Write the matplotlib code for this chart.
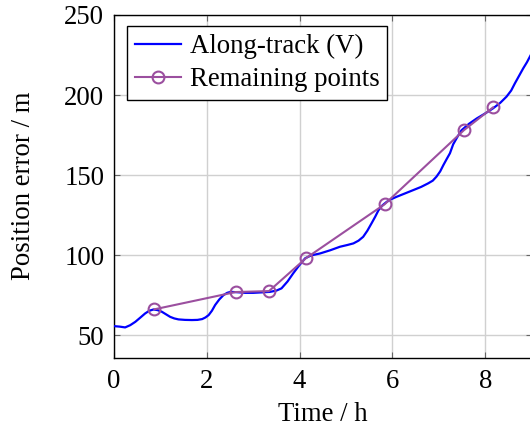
import numpy as np
import matplotlib
matplotlib.use('Agg')
import matplotlib.pyplot as plt

# blue curve
t_track = [0.0, 0.12, 0.24, 0.35, 0.46, 0.57, 0.67, 0.76, 0.85, 0.94, 1.03, 1.12, 1.21,
           1.30, 1.39, 1.53, 1.68, 1.80, 1.90, 1.97, 2.04, 2.11, 2.18, 2.27, 2.36, 2.44,
           2.51, 2.65, 2.83, 3.0, 3.19, 3.36, 3.50, 3.61, 3.74, 3.86, 3.99, 4.12, 4.25,
           4.44, 4.66, 4.87, 5.03, 5.16, 5.27, 5.37, 5.46, 5.55, 5.63, 5.70, 5.79, 5.88,
           5.98, 6.09, 6.27, 6.45, 6.62, 6.77, 6.87, 6.95, 7.03, 7.10, 7.17, 7.24, 7.31,
           7.40, 7.49, 7.65, 7.82, 8.0, 8.17, 8.32, 8.46, 8.56, 8.64, 8.73, 8.82, 8.90, 9.0]
err_track = [55.6, 55.3, 54.8, 56.2, 58.3, 61.0, 63.5, 65.2, 66.0, 65.6, 64.6, 63.0, 61.4,
             60.4, 59.8, 59.5, 59.4, 59.5, 60.0, 61.0, 62.5, 65.2, 68.8, 72.3, 75.0, 76.4,
             77.0, 76.8, 76.4, 76.4, 76.7, 77.0, 77.8, 79.2, 83.5, 88.5, 93.5, 98.0, 99.8,
             101.0, 103.0, 105.2, 106.3, 107.3, 109.0, 111.4, 115.2, 119.8, 124.0, 128.0, 131.2, 133.3,
             135.0, 136.4, 138.5, 140.6, 142.6, 144.8, 146.5, 149.0, 152.3, 156.3, 160.0, 163.6, 169.2,
             173.8, 178.0, 182.0, 185.4, 188.5, 191.7, 195.0, 199.0, 202.8, 207.3, 212.0, 216.7, 220.5, 226.0]

# remaining points
t_pts = [0.87, 2.62, 3.34, 4.14, 5.83, 7.54, 8.17]
err_pts = [66.1, 76.9, 77.5, 98.1, 131.7, 178.0, 192.3]

plt.rcParams['font.family'] = 'Liberation Serif'

fig = plt.figure(figsize=(5.3, 4.32), dpi=100)
ax = fig.add_axes([114/530, 74.5/432, 417.6/530, 342.5/432])

ax.plot(t_track, err_track, color='#0000ff', lw=1.6, label='Along-track (V)', zorder=3)
ax.plot(t_pts, err_pts, color='#9b4f9f', lw=1.5, marker='o', markersize=8.5,
        markerfacecolor='none', markeredgewidth=1.5, label='Remaining points', zorder=4)

ax.set_xlim(0, 9)
ax.set_ylim(36, 250)
ax.set_xticks([0, 2, 4, 6, 8])
ax.set_yticks([50, 100, 150, 200, 250])
ax.grid(True, color='#d0d0d0', lw=1.0)
ax.set_axisbelow(True)
ax.tick_params(direction='in', top=True, right=True, length=4, width=0.8,
               color='#666666', labelsize=19.3, pad=8)
ax.tick_params(axis='y', pad=7)
for s in ax.spines.values():
    s.set_linewidth(1.0)

ax.set_xlabel('Time / h', fontsize=19.3, labelpad=6)
ax.set_ylabel('Position error / m', fontsize=19.3, labelpad=20)

leg = ax.legend(loc='upper left', bbox_to_anchor=(0.03, 0.968), fontsize=19.3,
                fancybox=False, edgecolor='black', framealpha=1, borderpad=0.3,
                handlelength=1.75, handletextpad=0.3, labelspacing=0.3, borderaxespad=0)
leg.get_frame().set_linewidth(1.0)

fig.savefig('out.png', dpi=100)
